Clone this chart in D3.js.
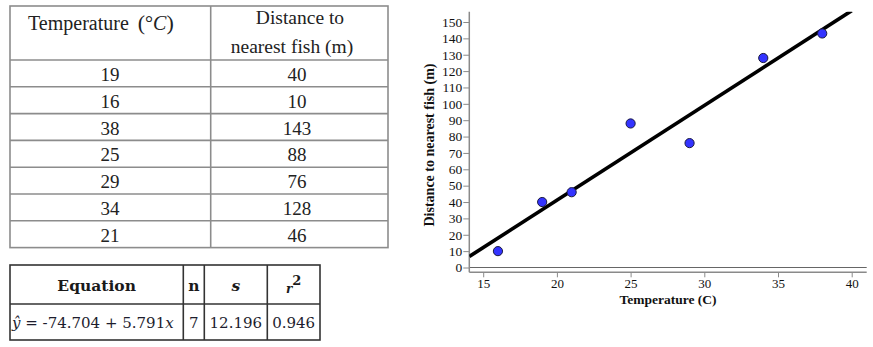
<!DOCTYPE html>
<html>
<head>
<meta charset="utf-8">
<script src="https://cdn.jsdelivr.net/npm/d3@7"></script>
<style>
  html, body { margin: 0; padding: 0; background: #fff; }
  svg { display: block; }
</style>
</head>
<body>
<div id="chart"></div>
<script>
// ---------- data ----------
const temperature = [19, 16, 38, 25, 29, 34, 21];
const distance = [40, 10, 143, 88, 76, 128, 46];
const xTicks = [15, 20, 25, 30, 35, 40];
const yTicks = [0, 10, 20, 30, 40, 50, 60, 70, 80, 90, 100, 110, 120, 130, 140, 150];
const intercept = -74.704;
const slope = 5.791;
const nObs = 7;
const sValue = "12.196";
const r2Value = "0.946";
const eqIntercept = "-74.704";
const eqSlope = "5.791";

const W = 873, H = 347;
const svg = d3.select("#chart").append("svg")
  .attr("width", W).attr("height", H)
  .style("background", "#fff");

// ---------- data table ----------
const serif = "Liberation Serif, Times New Roman, serif";
const tX0 = 10, tX1 = 210.7, tX2 = 388;
const tTop = 6, tHead = 60, rowH = 26.8;
const tBottom = tHead + rowH * temperature.length;
const tcol = "#8c8c8c";
const tg = svg.append("g");

tg.append("rect").attr("x", tX0).attr("y", tTop).attr("width", tX2 - tX0).attr("height", tBottom - tTop)
  .attr("fill", "none").attr("stroke", tcol).attr("stroke-width", 1.6);
tg.append("line").attr("x1", tX1).attr("x2", tX1).attr("y1", tTop).attr("y2", tBottom)
  .attr("stroke", tcol).attr("stroke-width", 1.6);
tg.selectAll("line.row").data(d3.range(temperature.length)).join("line")
  .attr("class", "row")
  .attr("x1", tX0).attr("x2", tX2)
  .attr("y1", i => tHead + i * rowH).attr("y2", i => tHead + i * rowH)
  .attr("stroke", tcol).attr("stroke-width", 1.6);

const hd = tg.append("text").attr("x", 28).attr("y", 30)
  .attr("font-family", serif).attr("font-size", 20).attr("fill", "#222");
hd.append("tspan").text("Temperature");
hd.append("tspan").attr("dx", 9).attr("font-size", 22).text("(");
hd.append("tspan").text("°");
hd.append("tspan").attr("font-style", "italic").text("C");
hd.append("tspan").attr("font-size", 22).text(")");

tg.append("text").attr("x", 300).attr("y", 24).attr("text-anchor", "middle")
  .attr("font-family", serif).attr("font-size", 19.5).attr("fill", "#222").text("Distance to");
tg.append("text").attr("x", 292).attr("y", 53).attr("text-anchor", "middle")
  .attr("font-family", serif).attr("font-size", 19.5).attr("fill", "#222").text("nearest fish (m)");

tg.selectAll("text.c1").data(temperature).join("text").attr("class", "c1")
  .attr("x", 110).attr("y", (d, i) => tHead + i * rowH + 21).attr("text-anchor", "middle")
  .attr("font-family", serif).attr("font-size", 19).attr("fill", "#222").text(d => d);
tg.selectAll("text.c2").data(distance).join("text").attr("class", "c2")
  .attr("x", 297).attr("y", (d, i) => tHead + i * rowH + 21).attr("text-anchor", "middle")
  .attr("font-family", serif).attr("font-size", 19).attr("fill", "#222").text(d => d);

// ---------- regression table ----------
const pal = "DejaVu Serif, serif";
const rX = [10, 183.3, 204.3, 267.3, 320];
const rY = [265, 304, 340];
const rg = svg.append("g");
const rcol = "#333";
rg.append("rect").attr("x", rX[0]).attr("y", rY[0]).attr("width", rX[4] - rX[0]).attr("height", rY[2] - rY[0])
  .attr("fill", "none").attr("stroke", rcol).attr("stroke-width", 1.6);
rg.selectAll("line.v").data(rX.slice(1, 4)).join("line").attr("class", "v")
  .attr("x1", d => d).attr("x2", d => d).attr("y1", rY[0]).attr("y2", rY[2])
  .attr("stroke", rcol).attr("stroke-width", 1.6);
rg.append("line").attr("x1", rX[0]).attr("x2", rX[4]).attr("y1", rY[1]).attr("y2", rY[1])
  .attr("stroke", rcol).attr("stroke-width", 1.6);

const mid = i => (rX[i] + rX[i + 1]) / 2;
rg.append("text").attr("x", mid(0)).attr("y", 291).attr("text-anchor", "middle")
  .attr("font-family", pal).attr("font-weight", "bold").attr("font-size", 15.5).attr("fill", "#1a1a1a").text("Equation");
rg.append("text").attr("x", mid(1)).attr("y", 291).attr("text-anchor", "middle")
  .attr("font-family", pal).attr("font-weight", "bold").attr("font-size", 15.5).attr("fill", "#1a1a1a").text("n");
rg.append("text").attr("x", mid(2)).attr("y", 291).attr("text-anchor", "middle")
  .attr("font-family", pal).attr("font-weight", "bold").attr("font-style", "italic").attr("font-size", 15.5).attr("fill", "#1a1a1a").text("s");
const r2t = rg.append("text").attr("x", mid(3)).attr("y", 293).attr("text-anchor", "middle")
  .attr("font-family", pal).attr("font-weight", "bold").attr("fill", "#1a1a1a");
r2t.append("tspan").attr("font-style", "italic").attr("font-size", 12).text("r");
r2t.append("tspan").attr("font-size", 13).attr("dy", -8).text("2");

const eq = rg.append("text").attr("x", 12).attr("y", 328)
  .attr("font-family", pal).attr("font-size", 15).attr("fill", "#1d1d2e");
eq.append("tspan").attr("font-style", "italic").text("ŷ");
eq.append("tspan").text(" = " + eqIntercept + " + " + eqSlope);
eq.append("tspan").attr("font-style", "italic").text("x");
rg.append("text").attr("x", mid(1)).attr("y", 328).attr("text-anchor", "middle")
  .attr("font-family", pal).attr("font-size", 15).attr("fill", "#1d1d2e").text(nObs);
rg.append("text").attr("x", mid(2)).attr("y", 328).attr("text-anchor", "middle")
  .attr("font-family", pal).attr("font-size", 15).attr("fill", "#1d1d2e").text(sValue);
rg.append("text").attr("x", mid(3)).attr("y", 328).attr("text-anchor", "middle")
  .attr("font-family", pal).attr("font-size", 15).attr("fill", "#1d1d2e").text(r2Value);

// ---------- scatter plot ----------
const pL = 469.3, pR = 866.7, pT = 11.7, pB = 272.3;
const x = d3.scaleLinear().domain([15, 40]).range([483.2, 851.7]);
const y = d3.scaleLinear().domain([0, 150]).range([267.5, 22]);
const xMin = x.invert(pL), xMax = x.invert(pR);

const axisCol = "#8a8a8a";
const g = svg.append("g");

svg.append("defs").append("clipPath").attr("id", "clip")
  .append("rect").attr("x", pL).attr("y", pT).attr("width", pR - pL).attr("height", pB - pT);

// zero line
g.append("line").attr("x1", pL).attr("x2", pR).attr("y1", y(0)).attr("y2", y(0))
  .attr("stroke", "#666").attr("stroke-width", 1.2);

// y axis
const yAxis = g.append("g").attr("transform", `translate(${pL},0)`)
  .call(d3.axisLeft(y).tickValues(yTicks).tickSize(6).tickPadding(1));
yAxis.select(".domain").remove();
yAxis.selectAll(".tick line").attr("stroke", axisCol);
yAxis.selectAll(".tick text").attr("font-family", serif).attr("font-size", 13.5).attr("fill", "#111");
g.append("line").attr("x1", pL).attr("x2", pL).attr("y1", pT).attr("y2", pB)
  .attr("stroke", axisCol).attr("stroke-width", 1.5);

// x axis
const xAxis = g.append("g").attr("transform", `translate(0,${pB})`)
  .call(d3.axisBottom(x).tickValues(xTicks).tickSize(5).tickPadding(1.5));
xAxis.select(".domain").remove();
xAxis.selectAll(".tick line").attr("stroke", axisCol);
xAxis.selectAll(".tick text").attr("font-family", serif).attr("font-size", 13).attr("fill", "#111");
g.append("line").attr("x1", pL).attr("x2", pR).attr("y1", pB).attr("y2", pB)
  .attr("stroke", axisCol).attr("stroke-width", 1.5);

// labels
g.append("text").attr("x", x((xMin + xMax) / 2)).attr("y", 303.5).attr("text-anchor", "middle")
  .attr("font-family", serif).attr("font-weight", "bold").attr("font-size", 13.5).attr("fill", "#111")
  .text("Temperature (C)");
g.append("text").attr("transform", `translate(434,${(pT + pB) / 2 + 3}) rotate(-90)`).attr("text-anchor", "middle")
  .attr("font-family", serif).attr("font-weight", "bold").attr("font-size", 14).attr("fill", "#111")
  .text("Distance to nearest fish (m)");

// regression line
const lineX = [xMin, 40];
g.append("line").attr("clip-path", "url(#clip)")
  .attr("x1", x(lineX[0])).attr("y1", y(intercept + slope * lineX[0]))
  .attr("x2", x(lineX[1])).attr("y2", y(intercept + slope * lineX[1]))
  .attr("stroke", "#000").attr("stroke-width", 3.6);

// points
g.selectAll("circle.pt").data(temperature.map((t, i) => [t, distance[i]])).join("circle")
  .attr("class", "pt")
  .attr("cx", d => x(d[0])).attr("cy", d => y(d[1])).attr("r", 4.6)
  .attr("fill", "#3333ff").attr("stroke", "#1a1a40").attr("stroke-width", 1);
</script>
</body>
</html>
